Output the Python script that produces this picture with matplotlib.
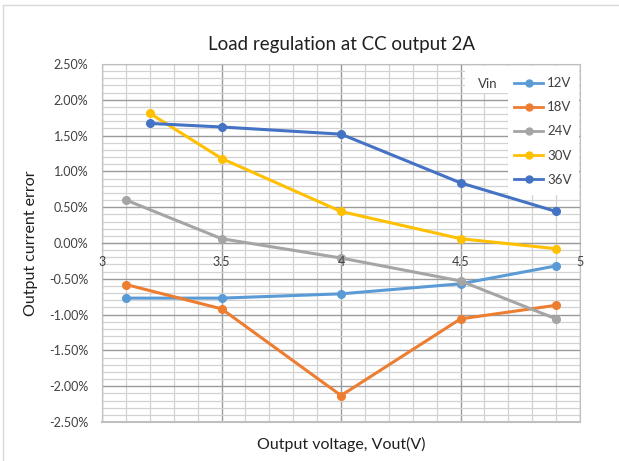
import numpy as np
import matplotlib
matplotlib.use("Agg")
import matplotlib.pyplot as plt
import matplotlib.transforms as mtransforms
from matplotlib.ticker import MultipleLocator, FixedLocator, FuncFormatter
from matplotlib.lines import Line2D
from matplotlib.patches import Rectangle

plt.rcParams['font.family'] = ['Lato', 'DejaVu Sans']

# data (output current error in %)
vout_12 = [3.1, 3.5, 4.0, 4.5, 4.9]
err_12 = [-0.77, -0.77, -0.71, -0.57, -0.32]
vout_18 = [3.1, 3.5, 4.0, 4.5, 4.9]
err_18 = [-0.58, -0.92, -2.13, -1.06, -0.87]
vout_24 = [3.1, 3.5, 4.0, 4.5, 4.9]
err_24 = [0.60, 0.06, -0.21, -0.53, -1.06]
vout_30 = [3.2, 3.5, 4.0, 4.5, 4.9]
err_30 = [1.81, 1.18, 0.44, 0.06, -0.08]
vout_36 = [3.2, 3.5, 4.0, 4.5, 4.9]
err_36 = [1.67, 1.62, 1.52, 0.84, 0.44]
xtick_vals = [3, 3.5, 4, 4.5, 5]

series = [
    ('12V', vout_12, err_12, '#5B9BD5'),
    ('18V', vout_18, err_18, '#ED7D31'),
    ('24V', vout_24, err_24, '#A5A5A5'),
    ('30V', vout_30, err_30, '#FFC000'),
    ('36V', vout_36, err_36, '#4472C4'),
]

fig = plt.figure(figsize=(6.19, 4.61), dpi=100)
ax = fig.add_axes([0.165, 0.0846, 0.772, 0.7766])

for name, x, y, c in series:
    ax.plot(x, y, color=c, lw=2.2, marker='o', ms=5.5, label=name, zorder=3)

ax.set_xlim(3, 5)
ax.set_ylim(-2.5, 2.5)
ax.xaxis.set_major_locator(FixedLocator(xtick_vals))
ax.yaxis.set_major_locator(MultipleLocator(0.5))
# minor grid every 0.1, skipping the major positions
xminor = [v for v in np.round(np.arange(3.0, 5.001, 0.1), 2) if round(v * 2) != v * 2]
yminor = [v for v in np.round(np.arange(-2.5, 2.501, 0.1), 2) if round(v * 2) != v * 2]
ax.xaxis.set_minor_locator(FixedLocator(xminor))
ax.yaxis.set_minor_locator(FixedLocator(yminor))
ax.set_xticklabels([])
ax.yaxis.set_major_formatter(FuncFormatter(lambda v, p: '%.2f%%' % v))

ax.grid(which='major', color='#9A9A9A', lw=1.0, zorder=0)
ax.grid(which='minor', color='#D2D2D2', lw=0.9, zorder=0)
ax.set_axisbelow(True)

for s in ['top', 'right', 'left']:
    ax.spines[s].set_color('#BFBFBF')
ax.spines['bottom'].set_position(('data', 0))
ax.spines['bottom'].set_color('#9A9A9A')
ax.tick_params(which='both', length=0)
ax.tick_params(axis='y', pad=10, labelsize=9, labelcolor='#404040')

# x tick labels sit just under the zero line, drawn above the series
below = mtransforms.offset_copy(ax.transData, fig=fig, y=-9.5, units='points')
for v in xtick_vals:
    ax.text(v, 0, '%g' % v, transform=below, ha='center', va='top',
            fontsize=9, color='#404040', zorder=6, clip_on=False)

# bottom frame line of plot area
ax.plot([3, 5], [-2.5, -2.5], color='#BFBFBF', lw=1.5, clip_on=False, zorder=1)

ax.set_title('Load regulation at CC output 2A', fontsize=13.5, color='#202020', pad=10)
ax.set_ylabel('Output current error', fontsize=11.5, color='#202020', labelpad=8)
fig.text(0.551, 0.035, 'Output voltage, Vout(V)', ha='center', va='center',
         fontsize=11.5, color='#202020')

# white backgrounds for the "Vin" label and the legend
ax.add_patch(Rectangle((0.759, 0.919), 0.09, 0.075, transform=ax.transAxes,
                       facecolor='white', edgecolor='none', zorder=4))
ax.add_patch(Rectangle((0.849, 0.634), 0.148, 0.36, transform=ax.transAxes,
                       facecolor='white', edgecolor='none', zorder=4))
ax.text(0.787, 0.944, 'Vin', transform=ax.transAxes, fontsize=9.5,
        color='#404040', va='center', zorder=5)
handles = [Line2D([], [], color=c, lw=2, marker='o', ms=5) for _, _, _, c in series]
leg = ax.legend(handles, [s[0] for s in series], loc='upper right',
                bbox_to_anchor=(0.994, 0.978), frameon=False,
                fontsize=9.5, handlelength=2.2, handletextpad=0.3,
                labelspacing=0.92, borderpad=0.4, borderaxespad=0.0)
for t in leg.get_texts():
    t.set_color('#404040')
leg.set_zorder(5)

# faint chart-area border (left / top)
fig.add_artist(Line2D([3 / 619, 3 / 619], [0.0, 1 - 5 / 461], color='#D9D9D9', lw=1,
                      transform=fig.transFigure))
fig.add_artist(Line2D([3 / 619, 1.0], [1 - 5 / 461, 1 - 5 / 461], color='#D9D9D9', lw=1,
                      transform=fig.transFigure))

fig.savefig('out.png', dpi=100)
